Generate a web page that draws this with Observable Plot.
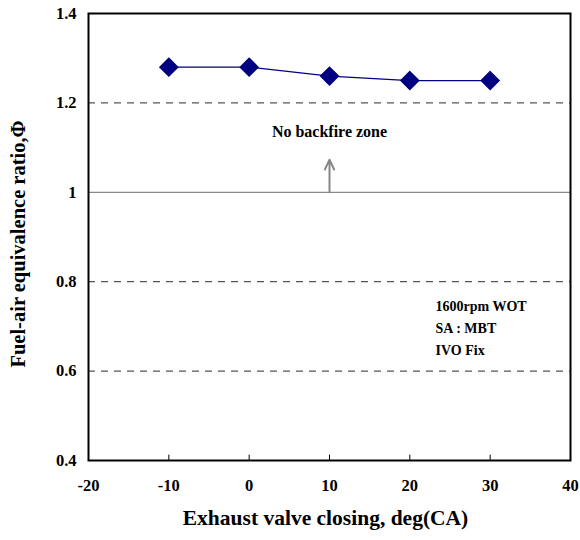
<!DOCTYPE html>
<html>
<head>
<meta charset="utf-8">
<script src="https://cdn.jsdelivr.net/npm/d3@7"></script>
<script src="https://cdn.jsdelivr.net/npm/@observablehq/plot@0.6"></script>
<style>
  body { margin: 0; background: #fff; }
  #chart svg { font-family: "Liberation Serif", "Times New Roman", serif; font-weight: bold; }
</style>
</head>
<body>
<div id="chart"></div>
<script>
const evc = [-10, 0, 10, 20, 30];
const phi = [1.28, 1.28, 1.26, 1.25, 1.25];
const xTicks = [-20, -10, 0, 10, 20, 30, 40];
const yTicks = [0.4, 0.6, 0.8, 1, 1.2, 1.4];
const dashedLevels = [1.2, 0.8, 0.6];
const solidLevel = [1.0];
const conditionLines = ["1600rpm WOT", "SA : MBT", "IVO Fix"];
const conditionY = [0.745, 0.695, 0.645];
const zoneLabel = "No backfire zone";

const points = evc.map((x, i) => ({x, y: phi[i]}));
const notes = conditionLines.map((t, i) => ({t, y: conditionY[i]}));

const chart = Plot.plot({
  width: 580,
  height: 540,
  marginLeft: 88,
  marginRight: 10,
  marginTop: 13,
  marginBottom: 80,
  style: {fontFamily: "Liberation Serif", fontWeight: "bold", background: "#fff"},
  x: {domain: [-20, 40], ticks: xTicks},
  y: {domain: [0.4, 1.4], ticks: yTicks},
  marks: [
    Plot.ruleY(dashedLevels, {stroke: "#555", strokeWidth: 1.2, strokeDasharray: "7,6"}),
    Plot.ruleY(solidLevel, {stroke: "#888", strokeWidth: 1.2}),
    Plot.arrow([{x1: 10, y1: 1.0, x2: 10, y2: 1.073}], {x1: "x1", y1: "y1", x2: "x2", y2: "y2", stroke: "#888", strokeWidth: 2, headLength: 10, headAngle: 50}),
    Plot.text([zoneLabel], {x: 10, y: 1.135, text: d => d, fontSize: 16, fill: "#000"}),
    Plot.text(notes, {x: 23.2, y: "y", text: "t", textAnchor: "start", fontSize: 14, fill: "#000"}),
    Plot.line(points, {x: "x", y: "y", stroke: "#000080", strokeWidth: 1.2}),
    Plot.dot(points, {x: "x", y: "y", symbol: "diamond2", r: 8, fill: "#000080", stroke: "#000080"}),
    Plot.ruleX(xTicks.slice(1, -1), {y1: 0.4, y2: 0.412, stroke: "#000", strokeWidth: 1}),
    Plot.frame({stroke: "#000", strokeWidth: 2}),
    Plot.axisX({ticks: xTicks, tickSize: 0, tickPadding: 19, fontSize: 16.5, label: null, tickFormat: d => String(d)}),
    Plot.axisY({ticks: yTicks, tickSize: 0, tickPadding: 12, fontSize: 16.5, label: null, tickFormat: d => String(d)}),
    Plot.text(["Exhaust valve closing, deg(CA)"], {frameAnchor: "bottom", dx: -4, dy: 64, text: d => d, fontSize: 21.5, fill: "#000"}),
    Plot.text(["Fuel-air equivalence ratio,Φ"], {frameAnchor: "left", textAnchor: "middle", dx: -70, dy: 7, rotate: -90, text: d => d, fontSize: 20.5, fill: "#000"})
  ]
});
document.getElementById("chart").appendChild(chart);
</script>
</body>
</html>
